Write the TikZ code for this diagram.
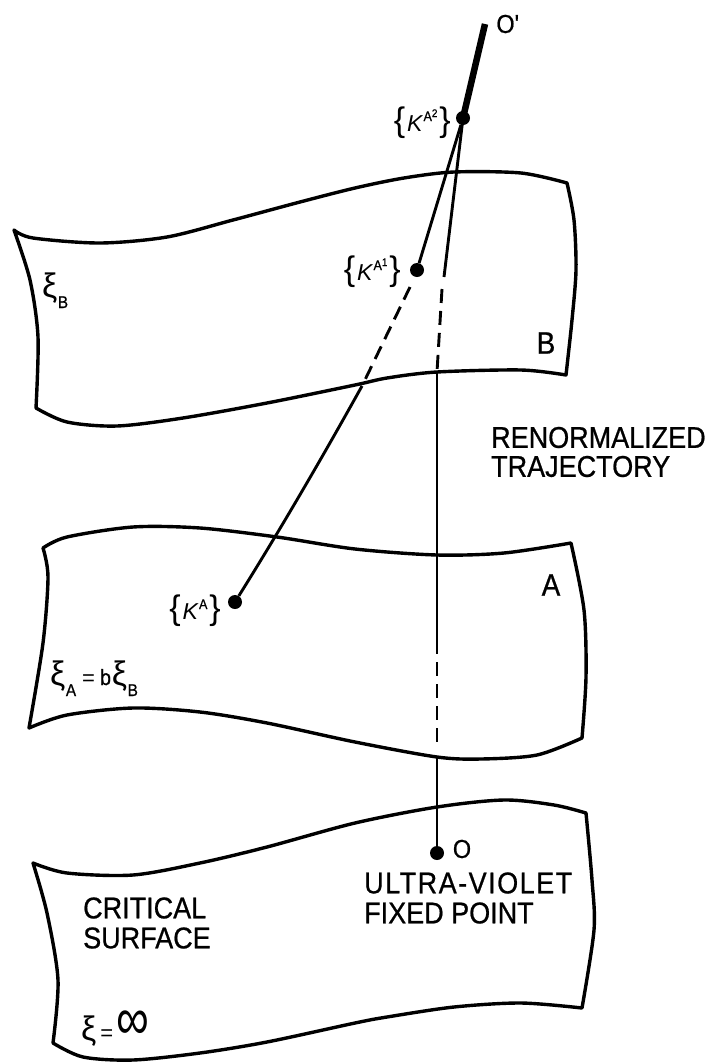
\documentclass[tikz,border=0pt]{standalone}
\usepackage{fontspec}
\usepackage{graphicx}
\setmainfont{Liberation Sans}
\newfontfamily\lettering{Liberation Sans}[FakeStretch=0.9,FakeBold=0.7]
\newcommand\kset[1]{{\fontsize{34}{34}\selectfont\{}\kern2pt{\fontsize{23}{23}\selectfont\itshape K}\kern1pt\raisebox{10pt}{\fontsize{14}{14}\selectfont\lettering A\raisebox{4pt}{\fontsize{11}{11}\selectfont #1}}\kern2pt{\fontsize{34}{34}\selectfont\}}}
\newcommand\xis[1]{{\fontsize{34}{34}\selectfont ξ}\kern0.5pt\raisebox{-11pt}{\fontsize{17}{17}\selectfont\lettering #1}}
\begin{document}
\begin{tikzpicture}[x=1pt,y=-1pt,
  surf/.style={line width=3.4pt, line join=round, line cap=round},
  traj/.style={line width=2.9pt, line cap=butt},
  hidden/.style={line width=2.9pt, dash pattern=on 14pt off 8pt},
  dot/.style={circle, fill, inner sep=0pt, minimum size=14pt},
  lbl/.style={inner sep=0pt, align=left, font=\lettering\fontsize{30}{30}\selectfont},
  big/.style={inner sep=0pt, font=\lettering\fontsize{31}{31}\selectfont},
  plain/.style={inner sep=0pt},
]
\useasboundingbox (0,0) rectangle (709,1063);

% surface B
\draw[surf] plot[smooth] coordinates {(14,230) (33,238) (100,243) (167,237) (233,220) (300,202) (355,188) (404,178) (454,172) (521,173) (567,183)}
  -- plot[smooth] coordinates {(567,183) (574,220) (576,270) (572,320) (566,375)}
  -- plot[smooth] coordinates {(566,375) (521,370) (437,372) (387,378) (355,385) (267,403) (183,418) (117,426) (67,422) (36,408)}
  -- plot[smooth] coordinates {(36,408) (38,337) (30,280) (14,230)} -- cycle;

% surface A
\draw[surf] plot[smooth] coordinates {(43,548) (67,537) (133,527) (200,528) (277,537) (355,549) (437,555) (504,553) (571,543)}
  -- plot[smooth] coordinates {(571,543) (584,610) (586,677) (582,738)}
  -- plot[smooth] coordinates {(582,738) (537,755) (481,759) (437,757) (355,742) (267,723) (200,712) (133,708) (67,715) (29,728)}
  -- plot[smooth] coordinates {(29,728) (43,643) (48,577) (43,548)} -- cycle;

% critical surface
\draw[surf] plot[smooth] coordinates {(33,863) (67,873) (133,875) (200,863) (267,847) (355,823) (437,807) (504,800) (554,805) (586,813)}
  -- plot[smooth] coordinates {(586,813) (592,880) (594,930) (582,1008)}
  -- plot[smooth] coordinates {(582,1008) (521,1003) (454,1007) (387,1017) (355,1023) (267,1042) (200,1053) (133,1060) (83,1057) (53,1043)}
  -- plot[smooth] coordinates {(53,1043) (58,980) (47,913) (33,863)} -- cycle;

% points
\node[dot] (KA2) at (463,118) {};
\node[dot] (KA1) at (417,270) {};
\node[dot] (KA) at (235,602) {};
\node[dot] (O) at (437,853) {};
\coordinate (Otop) at (485,24);
\coordinate (t1) at (444,277);
\coordinate (t1b) at (442,289);
\coordinate (t2) at (437,372);
\coordinate (t3) at (437,654);
\coordinate (t3b) at (437,662);
\coordinate (t4) at (437,748);
\coordinate (t4b) at (437,757);
\coordinate (d1) at (410,287);
\coordinate (e1) at (362,386);

% trajectories
\draw[line width=6.5pt] (Otop) -- (KA2.center);
\draw[traj] (KA2.center) -- (t1);
\draw[hidden] (t1b) -- (t2);
\draw[traj] (t2) -- (t3);
\draw[hidden] (t3b) -- (t4);
\draw[traj] (t4b) -- (O);
\draw[traj] (KA2) -- (KA1);
\draw[hidden] (d1) -- (e1);
\draw[traj] (e1) .. controls (322,458) and (280,530) .. (KA);

% labels
\node[big, font=\lettering\fontsize{26}{26}\selectfont] (lO1) at (508,24) {O\textquotesingle};
\node[plain, anchor=base east] (lKA2) at (451,131) {\kset{2}};
\node[plain, anchor=base east] (lKA1) at (401,280) {\kset{1}};
\node[plain, anchor=base east] (lKA) at (221,619) {\kset{}};
\node[plain, anchor=base west] (xiB) at (42,297) {\xis{B}};
\node[big] (lB) at (546,343) {B};
\node[big] (lA) at (551,585) {A};
\node[lbl, anchor=west, font=\lettering\fontsize{30}{29}\selectfont] (ren) at (491,452) {RENORMALIZED\\TRAJECTORY};
\node[plain, anchor=base west] (xiA) at (50,685) {\xis{A}\kern6pt{\fontsize{22}{22}\selectfont =\kern5pt\lettering b}\kern1pt\xis{B}};
\node[big, font=\lettering\fontsize{26}{26}\selectfont] (lO) at (462,849) {O};
\node[lbl, anchor=west] (uv) at (364,898) {{\addfontfeature{LetterSpace=5}ULTRA-VIOLET}\\FIXED POINT};
\node[lbl, anchor=west] (crit) at (83,923) {CRITICAL\\SURFACE};
\node[plain, anchor=base west] (xiinf) at (81,1040) {{\fontsize{34}{34}\selectfont ξ}\kern4pt{\fontsize{22}{22}\selectfont =}\kern3pt\raisebox{1pt}{\scalebox{1}[1.3]{\fontsize{46}{46}\selectfont ∞}}};
\end{tikzpicture}
\end{document}
